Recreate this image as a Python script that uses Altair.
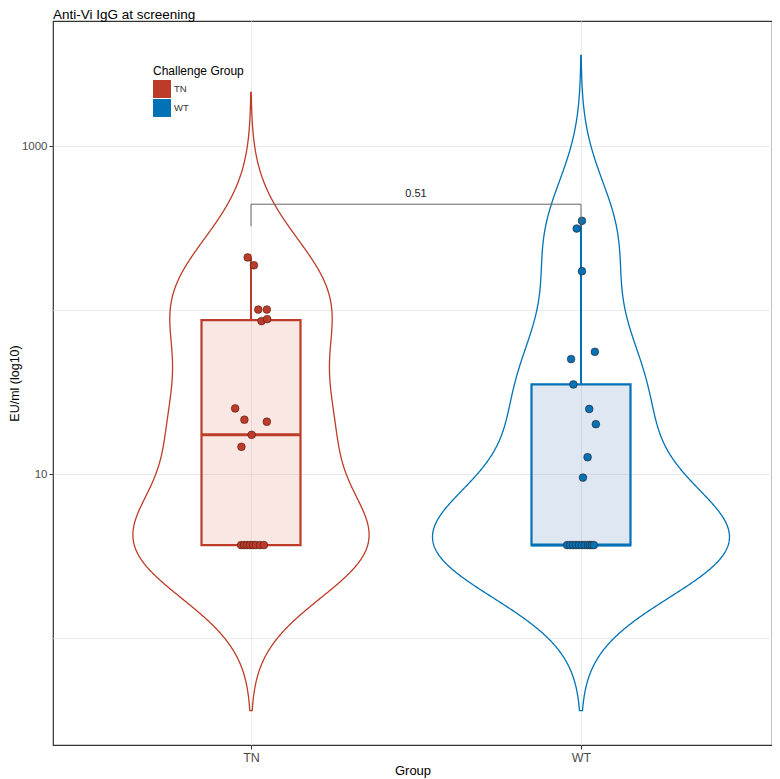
import altair as alt
import pandas as pd

# ---------------- data ----------------
groups = ["TN", "WT"]
group_pos = [1, 2]
colors = ["#BC3C29", "#0072B5"]
box_fill = ["#E8A08F", "#7F9FD0"]

tn_eu = [210, 188, 101, 101, 85.9, 88.3, 25.2, 21.5, 20.9, 17.4, 14.7,
         3.7, 3.7, 3.7, 3.7, 3.7, 3.7, 3.7, 3.7]
tn_jitter = [-0.010, 0.009, 0.022, 0.048, 0.032, 0.049, -0.048, -0.020, 0.048, 0.002, -0.029,
             -0.030, -0.021, -0.012, -0.003, 0.006, 0.015, 0.027, 0.039]

wt_eu = [351, 315, 173, 55.8, 50.4, 35.3, 25.0, 20.2, 12.7, 9.54,
         3.7, 3.7, 3.7, 3.7, 3.7, 3.7, 3.7, 3.7, 3.7, 3.7, 3.7]
wt_jitter = [0.003, -0.013, 0.003, 0.042, -0.030, -0.023, 0.025, 0.045, 0.020, 0.006,
             -0.042, -0.033, -0.024, -0.015, -0.006, 0.003, 0.012, 0.021, 0.027, 0.033, 0.039]

bracket_eu = 443
bracket_tip_eu = 325
p_value_label = "0.51"

# ---------------- tables ----------------
rows = []
for g, p, vals, jits in [("TN", group_pos[0], tn_eu, tn_jitter),
                         ("WT", group_pos[1], wt_eu, wt_jitter)]:
    for v, j in zip(vals, jits):
        rows.append({"group": g, "pos": p, "eu": v, "jit": j})
df = pd.DataFrame(rows)

bracket_df = pd.DataFrame({
    "x": [group_pos[0], group_pos[0], group_pos[1]],
    "x2": [group_pos[1], group_pos[0], group_pos[1]],
    "y": [bracket_eu, bracket_eu, bracket_eu],
    "y2": [bracket_eu, bracket_tip_eu, bracket_tip_eu],
})
label_df = pd.DataFrame({"x": [(group_pos[0] + group_pos[1]) / 2],
                         "y": [bracket_eu], "label": [p_value_label]})

# ---------------- scales / axes ----------------
FONT = "Liberation Sans"
color_scale = alt.Scale(domain=groups, range=colors)
boxfill_scale = alt.Scale(domain=groups, range=box_fill)
point_scale = alt.Scale(range=colors)  # data-driven domain (TN, WT)
yscale = alt.Scale(type="log", domain=[0.2235, 5800], nice=False)
xscale = alt.Scale(domain=[0.4, 2.5788], nice=False, zero=False)

xaxis = alt.Axis(
    values=group_pos,
    labelExpr="datum.value == 1 ? 'TN' : datum.value == 2 ? 'WT' : ''",
    title="Group", grid=True, gridColor="#EBEBEB", gridWidth=1,
    domain=False, tickColor="#333333", tickSize=4, tickWidth=1,
    labelColor="#4D4D4D", labelFontSize=12.5, labelPadding=2,
    titleFontSize=13, titleFontWeight="normal", titleColor="#000000",
    titlePadding=1, labelFont=FONT, titleFont=FONT,
)
yaxis = alt.Axis(
    values=[1, 10, 100, 1000],
    labelExpr="datum.value == 10 ? '10' : datum.value == 1000 ? '1000' : ''",
    tickOpacity={"condition": {"test": "datum.value == 10 || datum.value == 1000", "value": 1},
                 "value": 0},
    title="EU/ml (log10)", grid=True, gridColor="#EBEBEB", gridWidth=1,
    domain=False, tickColor="#333333", tickSize=4, tickWidth=1,
    labelColor="#4D4D4D", labelFontSize=11.5, labelPadding=2,
    titleFontSize=12.5, titleFontWeight="normal", titleColor="#000000",
    titlePadding=0, labelFont=FONT, titleFont=FONT,
)

base = alt.Chart(df)
bw = 0.3365

violin = (
    base.transform_calculate(lv="log(datum.eu) / LN10")
    .transform_joinaggregate(lo="min(lv)", hi="max(lv)", groupby=["group"])
    .transform_density("lv", as_=["lv", "density"], groupby=["group", "pos", "lo", "hi"],
                       bandwidth=bw, extent=[-0.7, 3.7], steps=900)
    .transform_filter(f"datum.lv >= datum.lo - {3 * bw} && datum.lv <= datum.hi + {3 * bw}")
    .transform_joinaggregate(maxd="max(density)")
    .transform_calculate(
        xl="datum.pos - 0.45 * datum.density / datum.maxd",
        xr="datum.pos + 0.45 * datum.density / datum.maxd",
        yv="pow(10, datum.lv)",
    )
    .mark_area(orient="horizontal", fillOpacity=0, strokeWidth=1.3)
    .encode(
        y=alt.Y("yv:Q", scale=yscale, axis=yaxis),
        x=alt.X("xl:Q", scale=xscale, axis=xaxis),
        x2="xr:Q",
        stroke=alt.Stroke("group:N", scale=color_scale, legend=None),
        detail="group:N",
    )
)

box_base = base.transform_aggregate(
    q1="q1(eu)", med="median(eu)", q3="q3(eu)", mx="max(eu)", mn="min(eu)",
    groupby=["group", "pos"],
).transform_calculate(xl="datum.pos - 0.15", xr="datum.pos + 0.15")

whisk_hi = box_base.mark_rule(strokeWidth=2).encode(
    x=alt.X("pos:Q", scale=xscale, axis=xaxis),
    y=alt.Y("q3:Q", scale=yscale, axis=yaxis), y2="mx:Q",
    stroke=alt.Stroke("group:N", scale=color_scale, legend=None),
)
whisk_lo = box_base.mark_rule(strokeWidth=2).encode(
    x=alt.X("pos:Q", scale=xscale, axis=xaxis),
    y=alt.Y("mn:Q", scale=yscale, axis=yaxis), y2="q1:Q",
    stroke=alt.Stroke("group:N", scale=color_scale, legend=None),
)
box = box_base.mark_rect(fillOpacity=0.25, strokeWidth=2.2).encode(
    x=alt.X("xl:Q", scale=xscale, axis=xaxis), x2="xr:Q",
    y=alt.Y("q1:Q", scale=yscale, axis=yaxis), y2="q3:Q",
    color=alt.Color("group:N", scale=boxfill_scale, legend=None),
    stroke=alt.Stroke("group:N", scale=color_scale, legend=None),
)
median = box_base.mark_rule(strokeWidth=3).encode(
    x=alt.X("xl:Q", scale=xscale, axis=xaxis), x2="xr:Q",
    y=alt.Y("med:Q", scale=yscale, axis=yaxis),
    stroke=alt.Stroke("group:N", scale=color_scale, legend=None),
)

points = (
    base.transform_calculate(xp="datum.pos + datum.jit")
    .mark_circle(size=60, opacity=1, stroke="#3b1410", strokeWidth=0.7, strokeOpacity=0.75)
    .encode(
        x=alt.X("xp:Q", scale=xscale, axis=xaxis),
        y=alt.Y("eu:Q", scale=yscale, axis=yaxis),
        fill=alt.Fill("group:N", scale=point_scale,
                      legend=alt.Legend(
                          title="Challenge Group", orient="none", legendX=100, legendY=45,
                          symbolType="square", symbolSize=324, symbolStrokeWidth=0,
                          symbolOpacity=1, rowPadding=1,
                          titleFontSize=12, titleFontWeight="normal", titleColor="#000000",
                          titleFont=FONT, titlePadding=2,
                          labelFontSize=9.5, labelColor="#333333", labelFont=FONT,
                          labelOffset=3,
                      )),
    )
)

bracket = alt.Chart(bracket_df).mark_rule(color="#666666", strokeWidth=1).encode(
    x=alt.X("x:Q", scale=xscale, axis=xaxis), x2="x2:Q",
    y=alt.Y("y:Q", scale=yscale, axis=yaxis), y2="y2:Q",
)
ptext = alt.Chart(label_df).mark_text(
    fontSize=11, baseline="bottom", dy=-5, color="#1a1a1a", font=FONT
).encode(
    x=alt.X("x:Q", scale=xscale, axis=xaxis),
    y=alt.Y("y:Q", scale=yscale, axis=yaxis),
    text="label:N",
)

chart = (
    alt.layer(violin, whisk_hi, whisk_lo, box, median, points, bracket, ptext)
    .properties(
        width=719, height=724,
        title=alt.TitleParams("Anti-Vi IgG at screening", anchor="start", fontSize=13.5,
                              fontWeight="normal", font=FONT, color="#000000",
                              offset=0, frame="group"),
        padding={"left": 45, "top": 13, "right": 0, "bottom": 33},
        autosize=alt.AutoSizeParams(type="none"),
    )
    .configure(font=FONT)
    .configure_view(stroke="#333333", strokeWidth=1.2)
)

chart.save("out.html", embed_options={"renderer": "svg", "actions": False})
